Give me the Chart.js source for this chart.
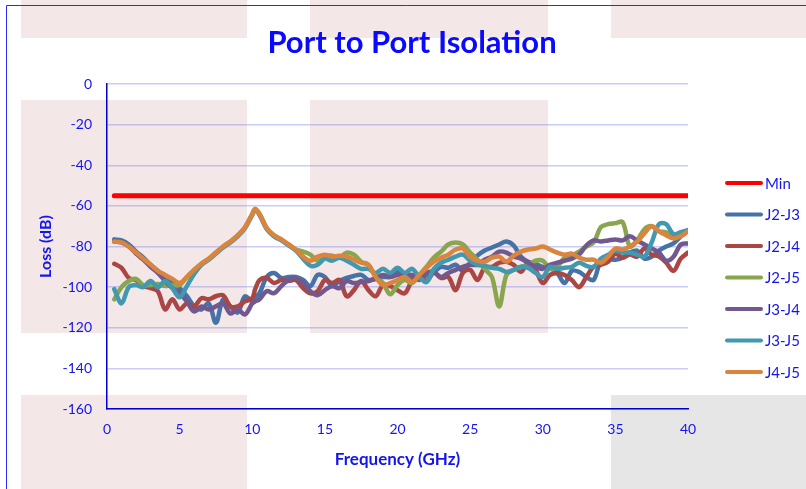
<!DOCTYPE html>
<html>
<head>
<meta charset="utf-8">
<script src="https://cdn.jsdelivr.net/npm/chart.js@4.4.0/dist/chart.umd.min.js"></script>
<style>
  html, body { margin: 0; padding: 0; background: #ffffff; }
  canvas { display: block; }
</style>
</head>
<body>
<canvas id="isoChart" width="806" height="489"></canvas>
<script>
// Frequency points (GHz)
const freq = [
    0.5, 1, 1.5, 2, 2.5, 3, 3.5, 4, 4.5, 5,
    5.5, 6, 6.5, 7, 7.5, 8, 8.5, 9, 9.5, 10,
    10.2, 10.5, 11, 11.5, 12, 12.5, 13, 13.5, 14, 14.5,
    15, 15.5, 16, 16.5, 17, 17.5, 18, 18.5, 19, 19.5,
    20, 20.5, 21, 21.5, 22, 22.5, 23, 23.5, 24, 24.5,
    25, 25.5, 26, 26.5, 27, 27.5, 28, 28.5, 29, 29.5,
    30, 30.5, 31, 31.5, 32, 32.5, 33, 33.5, 34, 34.5,
    35, 35.5, 36, 36.5, 37, 37.5, 38, 38.5, 39, 39.5,
    40
];

// Min limit line
const minFreq = [0.5, 40];
const minLoss = [-55, -55];

// Loss (dB) per port pair
const j2j3 = [
    -76.5, -77, -79, -82.5, -85.5, -89, -92, -95, -98, -100.5,
    -104.5, -109.5, -111, -108, -117.5, -106, -109.5, -112.5, -104.5, -107,
    -105, -103, -95, -93, -95.5, -95, -95, -96.5, -99.5, -94,
    -95, -99.5, -97, -95.5, -94.5, -94, -96.5, -96, -95, -95,
    -92.5, -95.5, -95, -96.5, -94, -92.5, -90, -90.5, -89, -92,
    -88, -84.5, -82, -80.5, -79, -77.5, -79.5, -85, -87.5, -88.5,
    -90, -90.5, -93, -98, -92, -92.5, -95, -96.5, -87, -86,
    -86.5, -85.5, -83, -82, -86, -85, -82, -80, -78.5, -75,
    -72
];
const j2j4 = [
    -88.5, -90.5, -95.5, -96.5, -99.5, -100.5, -102, -111, -106, -111,
    -108, -109.5, -105.5, -106, -104.5, -104, -109.5, -109.5, -107, -105.5,
    -101, -96.5, -95.5, -98, -96.5, -97, -96.5, -100.5, -103, -102,
    -96.5, -98, -96.5, -104.5, -101.5, -97, -101.5, -104.5, -99, -99.5,
    -101.5, -103, -97, -95, -97, -93, -95.5, -95, -101.5, -93,
    -91.5, -96.5, -90.5, -90, -88, -87.5, -89, -92.5, -88, -91.5,
    -98, -94, -93, -94, -96.5, -100, -95, -90, -89, -87.5,
    -83.5, -85.5, -84, -85, -81, -84, -85, -88, -92, -86,
    -83
];
const j2j5 = [
    -106, -100, -97, -96, -99, -99, -98.5, -99.5, -99, -99,
    -95, -91.5, -88.5, -86, -83, -80, -77.5, -74.5, -70.5, -64,
    -61.5, -64, -71, -74.5, -76.5, -79, -81.5, -82.5, -84, -87,
    -85, -84.5, -85.5, -83, -84, -87.5, -89, -95, -98, -103.5,
    -99, -96.5, -98, -94, -90, -85.5, -82.5, -79, -78, -79,
    -83, -86.5, -91, -95, -109.5, -94, -91.5, -90, -89, -87,
    -87, -91, -90, -85.5, -84.5, -82.5, -80, -78, -70.5, -69,
    -68.5, -68, -80, -77, -71.5, -70, -72.5, -73, -75, -73.5,
    -72.5
];
const j3j4 = [
    -77.5, -78, -80, -83.5, -86.5, -90, -93, -97, -100.5, -103,
    -107, -112, -109.5, -111, -109.5, -108, -113, -111, -113.5, -108,
    -107, -106, -102, -103, -99.5, -96.5, -95.5, -98, -102, -104,
    -101.5, -99.5, -100.5, -97, -98, -97.5, -97, -95.5, -94, -95,
    -94, -94, -94, -96, -93, -92.5, -95, -93, -91.5, -90,
    -89, -89, -86.5, -85, -82.5, -83, -85, -86, -88, -90,
    -91, -89, -88, -87, -86, -84, -79.5, -77, -77.5, -77,
    -76.5, -77, -75, -77, -79, -81, -83, -87, -85, -79,
    -78.5
];
const j3j5 = [
    -101, -108, -100, -99, -100, -97, -100, -97, -100.5, -105,
    -99.5, -93.5, -89, -86.5, -83.5, -80.5, -78, -75, -71, -64.5,
    -62, -64.5, -71.5, -75, -77, -79.5, -82, -86, -89.5, -89,
    -86, -87, -85.5, -87, -89, -91, -91, -93, -91, -93,
    -90.5, -93, -91, -95, -97.5, -91, -88, -86.5, -85, -84,
    -87, -89, -89.5, -90.5, -91, -92.5, -91.5, -90, -90.5, -93,
    -95, -90, -91, -90.5, -90, -88, -89.5, -90, -86, -84,
    -82, -83, -83, -84, -85, -78, -69, -69, -74, -73,
    -72
];
const j4j5 = [
    -77.5, -78, -80, -83, -86, -89, -92, -94, -96, -98,
    -95, -91.5, -88.5, -86, -83, -80, -77.5, -74.5, -70.5, -64,
    -61.5, -64, -71, -74.5, -76.5, -79, -81.5, -85, -87, -85,
    -84, -85, -84.5, -85, -86.5, -88, -89, -95, -99, -98,
    -96.5, -95, -97.5, -94, -90.5, -87.5, -85.5, -84, -81.5, -81,
    -85, -87, -87.5, -85.5, -85, -87.5, -84.5, -82.5, -81.5, -81,
    -80, -81.5, -83, -84, -83.5, -85.5, -86.5, -86.5, -88, -85,
    -81, -81.5, -80, -77.5, -73.5, -70, -72.5, -74.5, -76, -75,
    -72.5
];

const seriesNames = ['J2-J3', 'J2-J4', 'J2-J5', 'J3-J4', 'J3-J5', 'J4-J5'];
const seriesData = [j2j3, j2j4, j2j5, j3j4, j3j5, j4j5];
const seriesColors = ['#4572a7', '#aa4643', '#89a54e', '#71588f', '#4198af', '#db843d'];

const textBlue = '#1414f0';
const fontFamily = "Lato, 'Noto Sans', sans-serif";

const toPoints = (xs, ys) => xs.map((x, i) => ({ x: x, y: ys[i] }));

// later series are painted on top, like the original
const datasets = [{
    label: 'Min',
    data: toPoints(minFreq, minLoss),
    borderColor: '#ff0000',
    borderWidth: 5,
    order: 10
}];
seriesNames.forEach((name, i) => {
    datasets.push({
        label: name,
        data: toPoints(freq, seriesData[i]),
        borderColor: seriesColors[i],
        borderWidth: 4.5,
        order: seriesNames.length - i
    });
});

// Page background: pale blocks and the blue frame
const backdrop = {
    id: 'backdrop',
    beforeDraw(chart) {
        const ctx = chart.ctx;
        ctx.save();
        ctx.fillStyle = '#ffffff';
        ctx.fillRect(0, 0, chart.width, chart.height);
        ctx.fillStyle = '#f3e7e7';
        [[21, 0, 226, 38], [310, 0, 238, 38], [611, 0, 195, 38],
         [21, 100, 226, 233], [310, 100, 238, 233],
         [21, 395, 226, 94]].forEach(r => ctx.fillRect(r[0], r[1], r[2], r[3]));
        ctx.fillStyle = '#e6e6e6';
        ctx.fillRect(611, 395, 195, 94);
        ctx.strokeStyle = '#2a2aff';
        ctx.lineWidth = 1;
        ctx.beginPath();
        ctx.moveTo(6.5, 489);
        ctx.lineTo(6.5, 5.5);
        ctx.lineTo(806, 5.5);
        ctx.stroke();
        ctx.restore();
    }
};

// Title and right-hand legend
const labelsPlugin = {
    id: 'labels',
    afterDraw(chart) {
        const ctx = chart.ctx;
        ctx.save();
        ctx.fillStyle = '#0a0aff';
        ctx.font = 'bold 31px ' + fontFamily;
        ctx.textAlign = 'center';
        ctx.textBaseline = 'alphabetic';
        ctx.fillText('Port to Port Isolation', 412, 53);

        ctx.textAlign = 'left';
        ctx.textBaseline = 'middle';
        ctx.font = '15px ' + fontFamily;
        chart.data.datasets.forEach((ds, i) => {
            const y = 183 + i * 31.5;
            ctx.strokeStyle = ds.borderColor;
            ctx.lineWidth = 4;
            ctx.lineCap = 'round';
            ctx.beginPath();
            ctx.moveTo(727, y);
            ctx.lineTo(761, y);
            ctx.stroke();
            ctx.fillStyle = textBlue;
            ctx.fillText(ds.label, 765, y + 1);
        });
        ctx.restore();
    }
};

new Chart(document.getElementById('isoChart'), {
    type: 'line',
    data: { datasets: datasets },
    options: {
        responsive: false,
        animation: false,
        layout: { padding: { top: 84, right: 118, left: 0, bottom: 0 } },
        elements: {
            point: { radius: 0, hoverRadius: 0 },
            line: { tension: 0.35, borderCapStyle: 'round', borderJoinStyle: 'round', fill: false }
        },
        plugins: {
            legend: { display: false },
            title: { display: false },
            tooltip: { enabled: false }
        },
        scales: {
            x: {
                type: 'linear',
                min: 0,
                max: 40,
                afterFit(scale) { scale.height = 80; },
                ticks: {
                    stepSize: 5,
                    padding: 12,
                    color: textBlue,
                    font: { size: 14, family: fontFamily }
                },
                grid: { display: false, drawTicks: false },
                border: { display: true, color: '#0000cc', width: 1.5 },
                title: {
                    display: true,
                    text: 'Frequency (GHz)',
                    color: textBlue,
                    font: { size: 17, weight: 'bold', family: fontFamily },
                    padding: { top: 0, bottom: 19 }
                }
            },
            y: {
                min: -160,
                max: 0,
                afterFit(scale) { scale.width = 107; },
                ticks: {
                    stepSize: 20,
                    padding: 15,
                    color: textBlue,
                    font: { size: 14, family: fontFamily }
                },
                grid: { color: 'rgba(140,140,240,0.45)', lineWidth: 1.5, drawTicks: false },
                border: { display: true, color: '#0000cc', width: 1.5 },
                title: {
                    display: true,
                    text: 'Loss (dB)',
                    color: textBlue,
                    font: { size: 16, weight: 'bold', family: fontFamily },
                    padding: { top: 36, bottom: 0 }
                }
            }
        }
    },
    plugins: [backdrop, labelsPlugin]
});
</script>
</body>
</html>
